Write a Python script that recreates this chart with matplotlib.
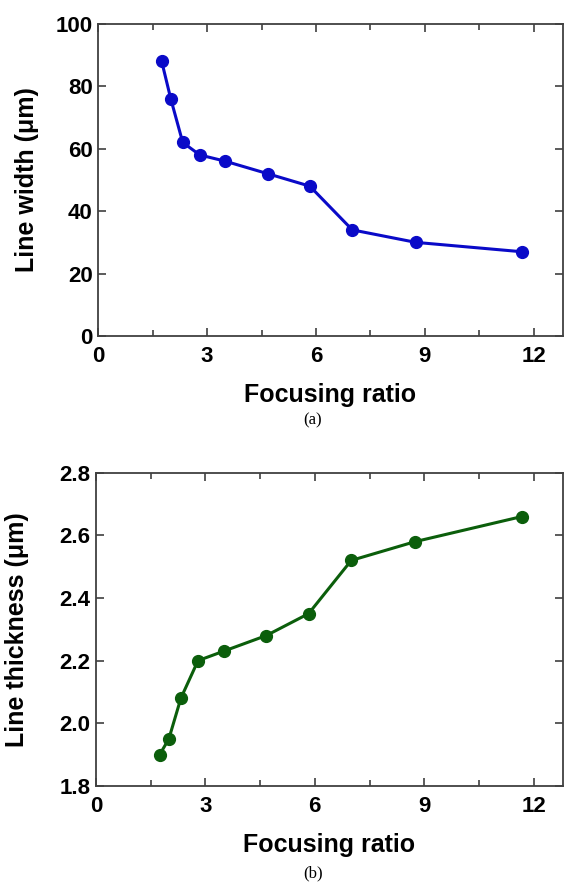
import numpy as np
import matplotlib
matplotlib.use('Agg')
import matplotlib.pyplot as plt

# 数据
focusing_ratio = [1.75, 2.0, 2.33, 2.8, 3.5, 4.67, 5.83, 7.0, 8.75, 11.67]
line_width = [88, 76, 62, 58, 56, 52, 48, 34, 30, 27]
line_thickness = [1.90, 1.95, 2.08, 2.20, 2.23, 2.28, 2.35, 2.52, 2.58, 2.66]

x_ticks = [0, 3, 6, 9, 12]
width_ticks = [0, 20, 40, 60, 80, 100]
thick_ticks = [1.8, 2.0, 2.2, 2.4, 2.6, 2.8]

plt.rcParams['font.family'] = ['Liberation Sans', 'DejaVu Sans']

fig = plt.figure(figsize=(5.64, 8.82), dpi=100)
ax1 = fig.add_axes([0.174, 0.619, 0.824, 0.354])
ax2 = fig.add_axes([0.170, 0.109, 0.828, 0.355])


def style_axes(ax):
    for s in ax.spines.values():
        s.set_color('#404040')
        s.set_linewidth(1.3)
    ax.set_xlim(0, 12.8)
    ax.set_xticks(x_ticks)
    ax.set_xticks(np.arange(0, 12.8, 1.5), minor=True)
    ax.tick_params(which='both', direction='in', top=True, right=True,
                   color='#404040', width=1.2)
    ax.tick_params(which='major', length=6, labelsize=16, pad=4)
    ax.tick_params(axis='x', which='major', pad=7)
    ax.tick_params(which='minor', length=4)
    for lab in ax.get_xticklabels() + ax.get_yticklabels():
        lab.set_fontweight('bold')
    ax.set_xlabel('Focusing ratio', fontsize=18, fontweight='bold', labelpad=12)


# (a) 线宽
ax1.plot(focusing_ratio, line_width, '-o', color='#0a0ac8', lw=2.2, markersize=8.5)
ax1.set_ylim(0, 100)
ax1.set_yticks(width_ticks)
style_axes(ax1)
ax1.set_ylabel('Line width (μm)', fontsize=18, fontweight='bold', labelpad=12)

# (b) 线厚
ax2.plot(focusing_ratio, line_thickness, '-o', color='#0b5e0b', lw=2.2, markersize=8.5)
ax2.set_ylim(1.8, 2.8)
ax2.set_yticks(thick_ticks)
ax2.set_yticklabels(['%.1f' % t for t in thick_ticks])
style_axes(ax2)
ax2.set_ylabel('Line thickness (μm)', fontsize=18, fontweight='bold', labelpad=22)

fig.text(0.555, 1 - 420 / 882, '(a)', ha='center', va='center', fontsize=12,
         family=['Liberation Serif', 'DejaVu Serif'])
fig.text(0.555, 1 - 873 / 882, '(b)', ha='center', va='center', fontsize=12,
         family=['Liberation Serif', 'DejaVu Serif'])

fig.savefig('out.png', dpi=100)
